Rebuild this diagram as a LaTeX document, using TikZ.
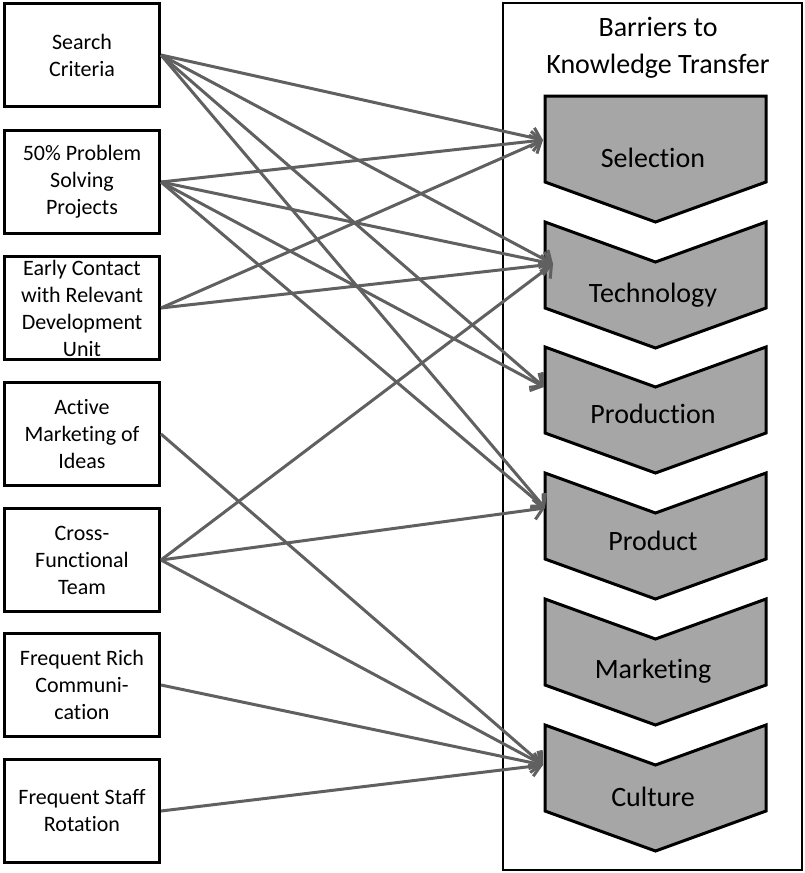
\documentclass[tikz,border=0pt]{standalone}
\usepackage{fontspec}
\setmainfont{Carlito}[Ligatures=NoCommon]
\usetikzlibrary{arrows.meta}
\definecolor{barriergray}{RGB}{166,166,166}
\definecolor{linkgray}{RGB}{96,96,96}

\tikzset{
  factor/.style={draw, line width=3pt, minimum width=155pt, minimum height=103pt,
    inner sep=0pt, align=center, font=\fontsize{22}{27}\selectfont},
  barrier/.style={draw, line width=3pt, fill=barriergray, line join=miter},
  barrier label/.style={anchor=base, font=\fontsize{28}{36}\selectfont},
  link/.style={draw=linkgray, line width=3pt, -{Straight Barb[length=9pt,width=20pt]}}
}

\begin{document}
\begin{tikzpicture}[x=1pt,y=-1pt]
\useasboundingbox (0,0) rectangle (805,873);

% Frame and title
\draw[line width=2.5pt] (503,3) rectangle (802,870);
\node[align=center, font=\fontsize{28}{37}\selectfont] (title) at (658,48) {Barriers to\\Knowledge Transfer};

% Barriers
\draw[barrier] (545,96) -- (766,96) -- (766,182) -- (655.5,222) -- (545,182) -- cycle;
\draw[barrier] (545,222) -- (655.5,262) -- (766,222) -- (766,308) -- (655.5,348) -- (545,308) -- cycle;
\draw[barrier] (545,347) -- (655.5,387) -- (766,347) -- (766,433) -- (655.5,473) -- (545,433) -- cycle;
\draw[barrier] (545,473) -- (655.5,513) -- (766,473) -- (766,559) -- (655.5,599) -- (545,559) -- cycle;
\draw[barrier] (545,599) -- (655.5,639) -- (766,599) -- (766,685) -- (655.5,725) -- (545,685) -- cycle;
\draw[barrier] (545,725) -- (655.5,765) -- (766,725) -- (766,811) -- (655.5,851) -- (545,811) -- cycle;
\node[barrier label] (selection) at (653,167) {Selection};
\node[barrier label] (technology) at (653,302) {Technology};
\node[barrier label] (production) at (653,423) {Production};
\node[barrier label] (product) at (653,550) {Product};
\node[barrier label] (marketing) at (653,678) {Marketing};
\node[barrier label] (culture) at (653,806) {Culture};

% Arrow ends
\coordinate (selection in) at (543,140);
\coordinate (technology in) at (553,264);
\coordinate (production in) at (544,387);
\coordinate (product in) at (545,508);
\coordinate (culture in) at (543,765);

% Factors
\node[factor] (search) at (82,55) {Search\\Criteria};
\node[factor] (solving) at (82,182) {50\% Problem\\Solving\\Projects};
\node[factor] (contact) at (82,308) {Early Contact\\with Relevant\\Development\\Unit};
\node[factor] (ideas) at (82,434) {Active\\Marketing of\\Ideas};
\node[factor] (team) at (82,560) {Cross-\\Functional\\Team};
\node[factor] (comm) at (82,685) {Frequent Rich\\Communi-\\cation};
\node[factor] (rotation) at (82,811) {Frequent Staff\\Rotation};

% Links
\draw[link] (search.east) -- (selection in);
\draw[link] (search.east) -- (technology in);
\draw[link] (search.east) -- (production in);
\draw[link] (search.east) -- (product in);
\draw[link] (solving.east) -- (selection in);
\draw[link] (solving.east) -- (technology in);
\draw[link] (solving.east) -- (production in);
\draw[link] (solving.east) -- (product in);
\draw[link] (contact.east) -- (selection in);
\draw[link] (contact.east) -- (technology in);
\draw[link] (ideas.east) -- (culture in);
\draw[link] (team.east) -- (technology in);
\draw[link] (team.east) -- (product in);
\draw[link] (team.east) -- (culture in);
\draw[link] (comm.east) -- (culture in);
\draw[link] (rotation.east) -- (culture in);
\end{tikzpicture}
\end{document}
